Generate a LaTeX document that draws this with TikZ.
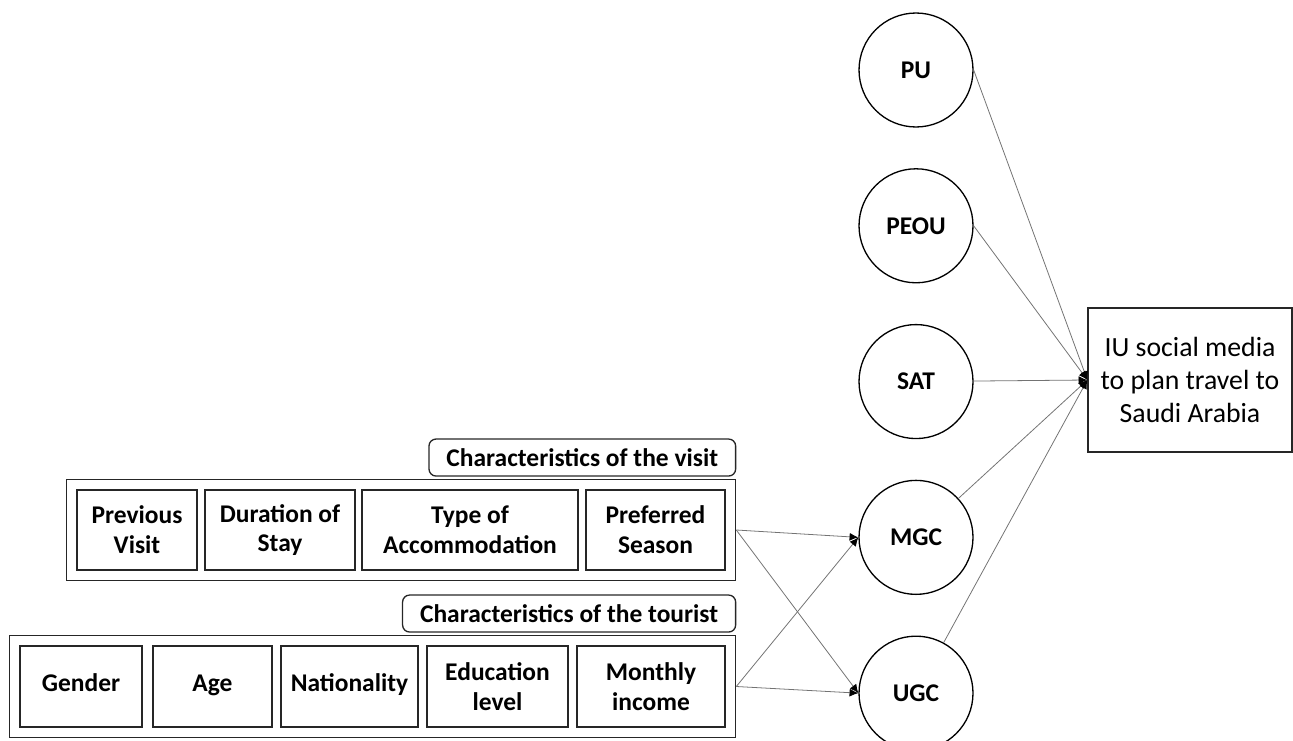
\documentclass[tikz,border=0pt]{standalone}
\usepackage{fontspec}
\setmainfont{Carlito}
\usetikzlibrary{shapes.geometric, arrows.meta, positioning, fit, calc}

\begin{document}
\begin{tikzpicture}[
    x=0.02cm, y=-0.02cm,
    node distance=0.81cm and 1.5cm,
    font=\fontsize{14.5}{17}\selectfont\bfseries,
    % Define specific node styles
    construct_node/.style={circle, draw=black, line width=0.75pt, minimum size=2.28cm, inner sep=0pt},
    item_node/.style={rectangle, draw=black!85, line width=0.75pt, minimum height=1.6cm, align=center, inner sep=0.05cm},
    one_line/.style={text height=1.6ex, text depth=0.5ex},
    group_node/.style={rectangle, draw=black!85, line width=0.75pt, inner sep=0.2cm},
    title_node/.style={rectangle, rounded corners=4pt, draw=black!85, line width=0.75pt, minimum height=0.74cm, inner xsep=0.35cm},
    outcome_node/.style={rectangle, draw=black!85, line width=0.75pt, minimum width=4.08cm, minimum height=2.88cm, align=center, font=\fontsize{15.8}{19}\selectfont},
    arrow/.style={-{Latex[length=5pt, width=4.5pt, black]}, line width=0.45pt, draw=black!55},
]
\useasboundingbox (0,0) rectangle (1293,740);

% Constructs (right column, top to bottom)
\node[construct_node] (pu) at (916,70) {PU};
\node[construct_node, below=of pu] (peou) {PEOU};
\node[construct_node, below=of peou] (sat) {SAT};
\node[construct_node, below=of sat] (mgc) {MGC};
\node[construct_node, below=of mgc] (ugc) {UGC};

% Outcome
\node[outcome_node] (iu) at (1190,380) {IU social media\\to plan travel to\\Saudi Arabia};

% Characteristics of the visit
\node[item_node, minimum width=2.4cm] (prev) at (137,530) {Previous\\Visit};
\node[item_node, minimum width=3.0cm] (dur) at (280,530) {Duration of\\Stay};
\node[item_node, minimum width=4.32cm] (type) at (470,530) {Type of\\Accommodation};
\node[item_node, minimum width=2.78cm] (pref) at (655.5,530) {Preferred\\Season};
\node[group_node, fit=(prev)(pref)] (visit) {};
\node[title_node, anchor=south east] (visit_title) at ($(visit.north east)+(0,-2)$) {Characteristics of the visit};

% Characteristics of the tourist
\node[item_node, one_line, minimum width=2.44cm, minimum height=1.62cm] (gender) at (81,686.5) {Gender};
\node[item_node, one_line, minimum width=2.38cm, minimum height=1.62cm] (age) at (212.5,686.5) {Age};
\node[item_node, one_line, minimum width=2.74cm, minimum height=1.62cm] (nat) at (349.5,686.5) {Nationality};
\node[item_node, minimum width=2.82cm, minimum height=1.62cm] (edu) at (497.5,686.5) {Education\\level};
\node[item_node, minimum width=2.96cm, minimum height=1.62cm] (inc) at (651,686.5) {Monthly\\income};
\node[group_node, fit=(gender)(inc)] (tourist) {};
\node[title_node, anchor=south east] (tourist_title) at ($(tourist.north east)+(0,-2)$) {Characteristics of the tourist};

% Connections
\draw[arrow] (pu.east) -- (iu.west);
\draw[arrow] (peou.east) -- (iu.west);
\foreach \c in {sat, mgc, ugc}
    \draw[arrow] (\c) -- (iu.west);

\draw[arrow] (visit.east) -- (mgc.west);
\draw[arrow] (visit.east) -- (ugc.west);
\draw[arrow] (tourist.east) -- (mgc.west);
\draw[arrow] (tourist.east) -- (ugc.west);

\end{tikzpicture}
\end{document}
